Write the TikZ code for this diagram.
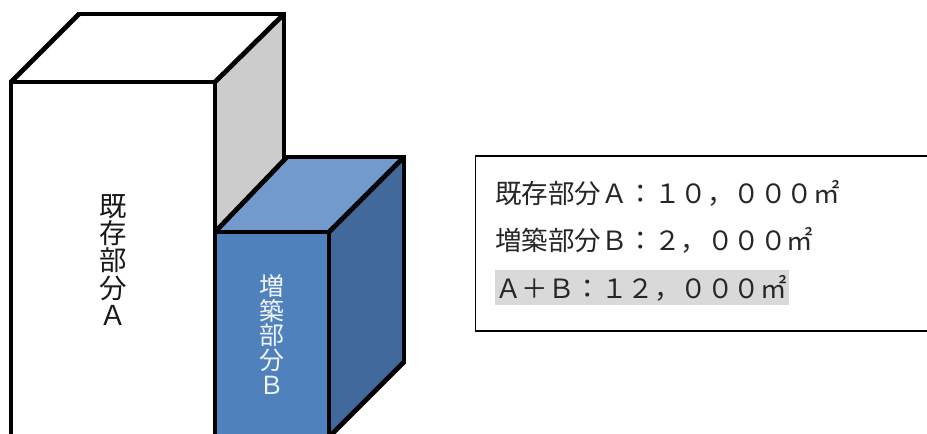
\documentclass[tikz,border=0pt]{standalone}
\usepackage{fontspec}
\setmainfont{Noto Sans CJK JP}
\definecolor{frontblue}{HTML}{4F81BD}
\definecolor{topblue}{HTML}{729ACD}
\definecolor{sideblue}{HTML}{41699C}
\definecolor{sidegrey}{HTML}{CCCCCC}
\definecolor{hilite}{HTML}{D9D9D9}
\tikzset{
  orthoedge/.style={draw=black,line width=4.8pt,line cap=rect},
  diagedge/.style={draw=black,line width=4.8pt,line cap=butt},
  vlabel/.style={align=center,inner sep=0pt,font=\fontsize{#1}{#1}\selectfont},
  rowtext/.style={anchor=west,inner sep=0pt,text=black!85,font=\fontsize{26.6}{27}\selectfont}
}
\begin{document}
\begin{tikzpicture}[x=1bp,y=-1bp]
\useasboundingbox (0,0) rectangle (927,434);
\clip (0,0) rectangle (927,434);
\fill[white] (0,0) rectangle (927,434);
% building A
\fill[white] (11,82) -- (79,14) -- (284,14) -- (215,82) -- cycle;
\fill[sidegrey] (215,82) -- (284,14) -- (284,175) -- (215,240) -- cycle;
\draw[diagedge] (11,82) -- (79,14);
\draw[diagedge] (215,82) -- (284,14);
\draw[orthoedge] (79,14) -- (284,14) -- (284,165);
\draw[orthoedge] (11,450) -- (11,82) -- (215,82) -- (215,450);
\node[vlabel=27.5,text=black!90] (labelA) at (113,260) {既\\[0pt]存\\[0pt]部\\[0pt]分\\[0pt]Ａ};
% building B
\fill[topblue] (215,232) -- (287,157) -- (404,157) -- (329,232) -- cycle;
\fill[sideblue] (329,232) -- (404,157) -- (404,362) -- (329,437) -- cycle;
\fill[frontblue] (215,232) rectangle (329,460);
\draw[diagedge] (215,232) -- (287,157);
\draw[diagedge] (329,232) -- (404,157);
\draw[diagedge] (404,362) -- (329,437);
\draw[orthoedge] (287,157) -- (404,157) -- (404,362);
\draw[orthoedge] (215,460) -- (215,232) -- (329,232) -- (329,460);
\node[vlabel=25,text=white!92!frontblue] (labelB) at (271.5,334.5) {増\\[0pt]築\\[0pt]部\\[0pt]分\\[0pt]Ｂ};
% area box
\draw[draw=black,line width=1.6pt,fill=white] (475.5,156) rectangle (940,331);
\fill[hilite] (495,270) rectangle (789,305);
\node[rowtext] (rowA) at (495,193) {既存部分Ａ：１０，０００㎡};
\node[rowtext] (rowB) at (495,240) {増築部分Ｂ：２，０００㎡};
\node[rowtext] (rowC) at (495,288) {Ａ＋Ｂ：１２，０００㎡};
\end{tikzpicture}
\end{document}
